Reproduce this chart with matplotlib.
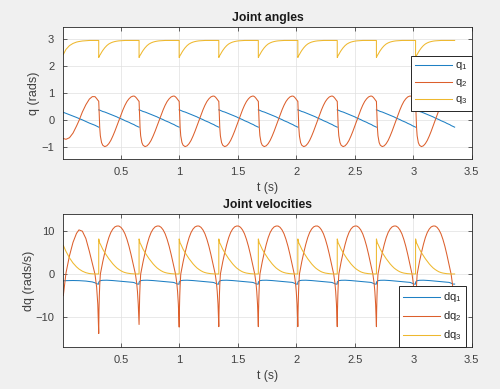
import numpy as np
import matplotlib
matplotlib.use("Agg")
import matplotlib.pyplot as plt

plt.rcParams['font.family'] = ['Liberation Sans', 'DejaVu Sans']
plt.rcParams['mathtext.fontset'] = 'custom'
plt.rcParams['mathtext.rm'] = 'Liberation Sans'
plt.rcParams['mathtext.it'] = 'Liberation Sans'

# ---------------- data ----------------
# impact (step) times and end of simulation (s)
impact_t = [0.310, 0.655, 0.998, 1.337, 1.675, 2.013, 2.350, 2.685, 3.020]
t_end = 3.354

# first partial step (before first impact)
t_first = [0.007, 0.03, 0.06, 0.09, 0.12, 0.141, 0.17, 0.20, 0.23, 0.255, 0.278, 0.292, 0.302, 0.31]
q1_first = [0.27, 0.23, 0.18, 0.13, 0.08, 0.04, -0.01, -0.07, -0.13, -0.17, -0.21, -0.24, -0.26, -0.28]
q2_first = [-0.70, -0.73, -0.67, -0.50, -0.24, -0.04, 0.28, 0.55, 0.76, 0.85, 0.85, 0.78, 0.72, 0.68]
q3_first = [2.41, 2.60, 2.74, 2.82, 2.87, 2.89, 2.91, 2.92, 2.93, 2.93, 2.93, 2.93, 2.93, 2.93]
dq1_first = [-1.55, -1.50, -1.48, -1.47, -1.48, -1.50, -1.55, -1.60, -1.70, -1.80, -2.00, -2.20, -2.30, -2.30]
dq2_first = [-5.0, 0.3, 4.3, 7.4, 9.5, 10.3, 10.0, 8.3, 5.3, 2.5, 0.0, -3.0, -7.0, -13.8]
dq3_first = [6.7, 5.3, 3.8, 2.6, 1.7, 1.2, 0.7, 0.35, 0.15, 0.08, 0.05, 0.05, 0.05, 0.05]

# one step (phase 0 = impact, 1 = next impact)
s_step = [0.0, 0.006, 0.015, 0.025, 0.04, 0.07, 0.10, 0.15, 0.20, 0.25, 0.30, 0.35, 0.40, 0.45,
          0.50, 0.55, 0.60, 0.65, 0.70, 0.75, 0.80, 0.85, 0.88, 0.91, 0.94, 0.96, 0.98, 0.99, 1.0]
q1_step = [0.36, 0.36, 0.35, 0.35, 0.34, 0.32, 0.30, 0.28, 0.25, 0.22, 0.19, 0.16, 0.13, 0.10,
           0.06, 0.03, 0.00, -0.04, -0.07, -0.10, -0.14, -0.17, -0.19, -0.22, -0.24, -0.25, -0.27, -0.27, -0.28]
q2_step = [0.68, 0.45, 0.05, -0.30, -0.60, -0.85, -0.95, -1.00, -0.97, -0.89, -0.77, -0.61, -0.43, -0.23,
           -0.03, 0.17, 0.36, 0.53, 0.67, 0.77, 0.84, 0.87, 0.87, 0.84, 0.79, 0.75, 0.71, 0.69, 0.68]
q3_step = [2.30, 2.32, 2.35, 2.38, 2.41, 2.49, 2.56, 2.66, 2.74, 2.80, 2.84, 2.87, 2.89, 2.905,
           2.915, 2.92, 2.925, 2.93, 2.93, 2.93, 2.93, 2.93, 2.93, 2.93, 2.93, 2.93, 2.93, 2.93, 2.93]
dq1_step = [-1.85, -1.80, -1.70, -1.60, -1.50, -1.45, -1.42, -1.40, -1.40, -1.42, -1.45, -1.48, -1.52, -1.55,
            -1.58, -1.62, -1.66, -1.70, -1.74, -1.78, -1.83, -1.90, -1.97, -2.10, -2.25, -2.30, -2.30, -2.30, -2.30]
dq2_step = [-12.5, -8.5, -5.0, -2.5, 0.0, 1.5, 2.9, 5.0, 6.9, 8.5, 9.7, 10.5, 11.0, 11.2,
            11.2, 10.9, 10.3, 9.4, 8.1, 6.5, 4.6, 2.5, 1.2, 0.0, -2.0, -4.0, -7.0, -9.5, -12.5]
dq3_step = [8.2, 8.0, 7.6, 7.2, 7.0, 6.4, 5.8, 5.0, 4.3, 3.6, 3.0, 2.4, 1.9, 1.45,
            1.1, 0.8, 0.55, 0.38, 0.26, 0.18, 0.12, 0.08, 0.06, 0.05, 0.05, 0.05, 0.05, 0.05, 0.05]
# lowest value of the dq2 spike at each impact
dq2_spike = [-13.8, -11.7, -12.3, -12.2, -12.2, -12.2, -12.2, -12.2, -12.2]

x_ticks = [0.5, 1, 1.5, 2, 2.5, 3, 3.5]
x_ticklabels = ['0.5', '1', '1.5', '2', '2.5', '3', '3.5']
q_ticks = [-1, 0, 1, 2, 3]
dq_ticks = [-10, 0, 10]
q_labels = ['q$_1$', 'q$_2$', 'q$_3$']
dq_labels = ['dq$_1$', 'dq$_2$', 'dq$_3$']


def build(first, step, spikes=None, gap=False):
    ts = [np.asarray(t_first, float)]
    vs = [np.asarray(first, float)]
    bounds = impact_t + [t_end]
    for i in range(len(impact_t)):
        t0, t1 = bounds[i], bounds[i + 1]
        if gap:
            ts.append(np.array([t0]))
            vs.append(np.array([np.nan]))
        ts.append(t0 + np.asarray(s_step) * (t1 - t0))
        v = np.asarray(step, float).copy()
        if spikes is not None:
            v[0] = spikes[i]
            if i + 1 < len(spikes):
                v[-1] = spikes[i + 1]
        vs.append(v)
    return np.concatenate(ts), np.concatenate(vs)


colors = ['#1f80c4', '#dc5f2c', '#eeb82e']
edge = '#262626'

fig = plt.figure(figsize=(5.0, 3.89), dpi=100, facecolor='#f0f0f0')
ax1 = fig.add_axes([0.1266, 0.5905, 0.8168, 0.3409])
ax2 = fig.add_axes([0.1266, 0.1072, 0.8168, 0.3427])

series_top = [(q1_first, q1_step, None, True), (q2_first, q2_step, None, False), (q3_first, q3_step, None, False)]
series_bot = [(dq1_first, dq1_step, None, False), (dq2_first, dq2_step, dq2_spike, False),
              (dq3_first, dq3_step, None, False)]

for ax, series, labels, yticks, ylim, ylabel, title, leg_anchor, ylpad in [
        (ax1, series_top, q_labels, q_ticks, (-1.47, 3.44), 'q (rads)', 'Joint angles', (1.0, 0.779), 1.0),
        (ax2, series_bot, dq_labels, dq_ticks, (-17.0, 14.0), 'dq (rads/s)', 'Joint velocities', (0.986, 0.46), 0.5)]:
    ax.set_facecolor('white')
    handles = []
    for (first, step, spikes, gap), c, lab in zip(series, colors, labels):
        t, v = build(first, step, spikes, gap)
        h, = ax.plot(t, v, color=c, lw=0.75, label=lab)
        handles.append(h)
    ax.set_xlim(0.007, 3.5)
    ax.set_ylim(*ylim)
    ax.set_xticks(x_ticks)
    ax.set_xticklabels(x_ticklabels)
    ax.set_yticks(yticks)
    ax.grid(True, color='#e0e0e0', lw=0.5)
    ax.set_axisbelow(True)
    ax.tick_params(direction='in', top=True, right=True, length=3, width=0.5,
                   colors=edge, labelcolor='#404040', labelsize=8)
    ax.tick_params(axis='x', pad=5.5)
    ax.tick_params(axis='y', pad=6.5)
    for sp in ax.spines.values():
        sp.set_color(edge)
        sp.set_linewidth(0.6)
    ax.set_xlabel('t (s)', fontsize=8.8, color='#404040', labelpad=4)
    ax.set_ylabel(ylabel, fontsize=9, color='#404040', labelpad=ylpad)
    ax.set_title(title, fontsize=8.8, fontweight='bold', color='#1a1a1a', pad=4)
    leg = ax.legend(handles=handles, loc='upper right', bbox_to_anchor=leg_anchor,
                    fancybox=False, framealpha=1, edgecolor=edge, fontsize=8,
                    handlelength=3.3, labelspacing=0.45, borderaxespad=0,
                    handletextpad=0.3, borderpad=0.4)
    leg.get_frame().set_linewidth(0.7)
    for txt in leg.get_texts():
        txt.set_color('#262626')

fig.savefig('out.png', dpi=100, facecolor=fig.get_facecolor())
